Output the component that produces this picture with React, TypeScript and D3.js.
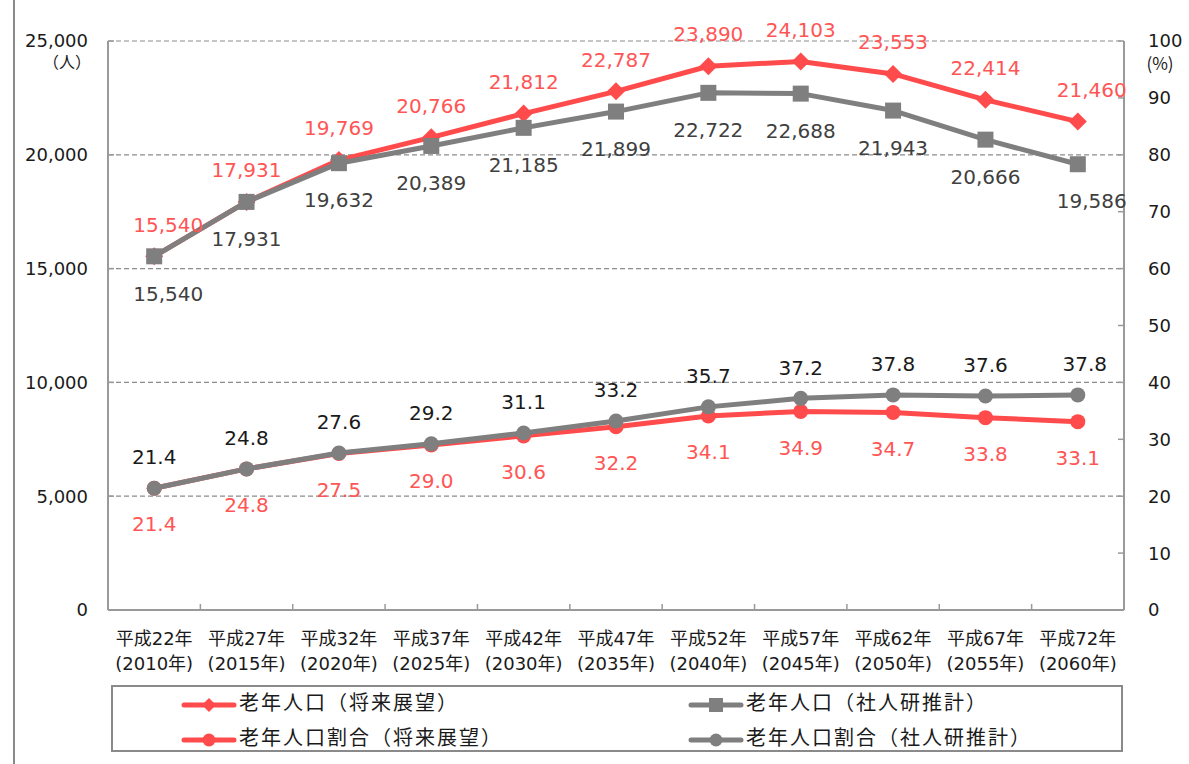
import React from "react";
import * as d3 from "d3";

const categories1 = ["平成22年", "平成27年", "平成32年", "平成37年", "平成42年", "平成47年", "平成52年", "平成57年", "平成62年", "平成67年", "平成72年"];
const categories2 = ["(2010年)", "(2015年)", "(2020年)", "(2025年)", "(2030年)", "(2035年)", "(2040年)", "(2045年)", "(2050年)", "(2055年)", "(2060年)"];
const popOutlook = [15540, 17931, 19769, 20766, 21812, 22787, 23890, 24103, 23553, 22414, 21460];
const popIPSS = [15540, 17931, 19632, 20389, 21185, 21899, 22722, 22688, 21943, 20666, 19586];
const ratioOutlook = [21.4, 24.8, 27.5, 29.0, 30.6, 32.2, 34.1, 34.9, 34.7, 33.8, 33.1];
const ratioIPSS = [21.4, 24.8, 27.6, 29.2, 31.1, 33.2, 35.7, 37.2, 37.8, 37.6, 37.8];
const leftTicks = [0, 5000, 10000, 15000, 20000, 25000];
const rightTicks = [0, 10, 20, 30, 40, 50, 60, 70, 80, 90, 100];
const legendLabels = ["老年人口（将来展望）", "老年人口（社人研推計）", "老年人口割合（将来展望）", "老年人口割合（社人研推計）"];

const RED = "#FF4B4B";
const RED_TEXT = "#FF5555";
const GRAY = "#7F7F7F";
const FONT = "'DejaVu Sans', 'Noto Sans CJK JP', sans-serif";
const CJK = "'Noto Sans CJK JP', 'DejaVu Sans', sans-serif";

export default function App() {
  const L = 108, R = 1124, T = 41, B = 610;
  const x = d3.scaleBand<string>().domain(categories1).range([L, R]);
  const cx = (i: number) => (x(categories1[i]) as number) + x.bandwidth() / 2;
  const yL = d3.scaleLinear().domain([0, 25000]).range([B, T]);
  const yR = d3.scaleLinear().domain([0, 100]).range([B, T]);
  const fmt = d3.format(",");
  const fmt1 = d3.format(".1f");
  const last = categories1.length - 1;

  const linePop = d3.line<number>().x((_, i) => cx(i)).y((d) => yL(d));
  const lineRat = d3.line<number>().x((_, i) => cx(i)).y((d) => yR(d));

  const diamond = (px: number, py: number, s: number) =>
    `M${px},${py - s} L${px + s},${py} L${px},${py + s} L${px - s},${py} Z`;

  const popDx = (i: number) => (i === 0 || i === last ? 14 : 0);

  return (
    <svg width={1189} height={764} style={{ position: "absolute", left: 0, top: 0, background: "#fff" }}>
      <line x1={14} x2={14} y1={0} y2={764} stroke="#8a8a8a" strokeWidth={2} />

      {/* gridlines */}
      {leftTicks.filter((t) => t > 0).map((t) => (
        <line key={"g" + t} x1={L} x2={R} y1={yL(t)} y2={yL(t)} stroke="#8c8c8c" strokeWidth={1.2} strokeDasharray="5 3" />
      ))}
      {/* axes */}
      <line x1={L} x2={L} y1={T} y2={B} stroke="#9a9a9a" strokeWidth={2} />
      <line x1={R} x2={R} y1={T} y2={B} stroke="#9a9a9a" strokeWidth={2} />
      <line x1={L} x2={R} y1={B} y2={B} stroke="#9a9a9a" strokeWidth={2} />
      {rightTicks.map((t) => (
        <line key={"rt" + t} x1={R - 6} x2={R} y1={yR(t)} y2={yR(t)} stroke="#9a9a9a" strokeWidth={1.5} />
      ))}
      {leftTicks.map((t) => (
        <line key={"lt" + t} x1={L} x2={L + 6} y1={yL(t)} y2={yL(t)} stroke="#9a9a9a" strokeWidth={1.5} />
      ))}
      {categories1.map((c, i) => (
        <line key={"bt" + i} x1={(x(c) as number)} x2={(x(c) as number)} y1={B - 6} y2={B} stroke="#9a9a9a" strokeWidth={1.5} />
      ))}

      {/* axis labels */}
      {leftTicks.map((t) => (
        <text key={"ll" + t} x={88} y={yL(t)} dy="0.36em" textAnchor="end" fontFamily={FONT} fontSize={18} fill="#1a1a1a">
          {fmt(t)}
        </text>
      ))}
      <text x={91} y={64} textAnchor="end" dominantBaseline="middle" fontFamily={CJK} fontSize={16} fill="#1a1a1a">（人）</text>
      {rightTicks.map((t) => (
        <text key={"rl" + t} x={1148} y={yR(t)} dy="0.36em" textAnchor="start" fontFamily={FONT} fontSize={18} fill="#1a1a1a">
          {t}
        </text>
      ))}
      <text x={1160} y={65} textAnchor="middle" dominantBaseline="middle" fontFamily={CJK} fontSize={17} fill="#1a1a1a">(%)</text>

      {categories1.map((c, i) => (
        <g key={"cl" + i}>
          <text x={cx(i)} y={640} textAnchor="middle" dominantBaseline="middle" fontFamily={FONT} fontSize={18} fill="#1a1a1a">{c}</text>
          <text x={cx(i)} y={665} textAnchor="middle" dominantBaseline="middle" fontFamily={FONT} fontSize={18} fill="#1a1a1a">{categories2[i]}</text>
        </g>
      ))}

      {/* population lines */}
      <path d={linePop(popOutlook) as string} fill="none" stroke={RED} strokeWidth={5} strokeLinejoin="round" />
      {popOutlook.map((v, i) => (
        <path key={"pd" + i} d={diamond(cx(i), yL(v), 9)} fill={RED} />
      ))}
      <path d={linePop(popIPSS) as string} fill="none" stroke={GRAY} strokeWidth={5} strokeLinejoin="round" />
      {popIPSS.map((v, i) => (
        <rect key={"ps" + i} x={cx(i) - 8} y={yL(v) - 8} width={16} height={16} fill={GRAY} />
      ))}

      {/* ratio lines */}
      <path d={lineRat(ratioOutlook) as string} fill="none" stroke={RED} strokeWidth={5} strokeLinejoin="round" />
      {ratioOutlook.map((v, i) => (
        <circle key={"rc" + i} cx={cx(i)} cy={yR(v)} r={7.5} fill={RED} />
      ))}
      <path d={lineRat(ratioIPSS) as string} fill="none" stroke={GRAY} strokeWidth={5} strokeLinejoin="round" />
      {ratioIPSS.map((v, i) => (
        <circle key={"gc" + i} cx={cx(i)} cy={yR(v)} r={7.5} fill={GRAY} />
      ))}

      {/* data labels */}
      {popOutlook.map((v, i) => (
        <text key={"pol" + i} x={cx(i) + popDx(i)} y={yL(v) - 32} dy="0.36em" textAnchor="middle" fontFamily={FONT} fontSize={20} fill={RED_TEXT}>
          {fmt(v)}
        </text>
      ))}
      {popIPSS.map((v, i) => (
        <text key={"pil" + i} x={cx(i) + popDx(i)} y={yL(v) + 37} dy="0.36em" textAnchor="middle" fontFamily={FONT} fontSize={20} fill="#404040">
          {fmt(v)}
        </text>
      ))}
      {ratioOutlook.map((v, i) => (
        <text key={"rol" + i} x={cx(i)} y={yR(v) + 36} dy="0.36em" textAnchor="middle" fontFamily={FONT} fontSize={20} fill={RED_TEXT}>
          {fmt1(v)}
        </text>
      ))}
      {ratioIPSS.map((v, i) => (
        <text key={"ril" + i} x={cx(i) + (i === last ? 7 : 0)} y={yR(v) - 31} dy="0.36em" textAnchor="middle" fontFamily={FONT} fontSize={20} fill="#1a1a1a">
          {fmt1(v)}
        </text>
      ))}

      {/* legend */}
      <rect x={112} y={686} width={1010} height={65} fill="#fff" stroke="#8a8a8a" strokeWidth={2} />
      {legendLabels.map((lab, k) => {
        const col = k % 2;
        const row = Math.floor(k / 2);
        const sx = col === 0 ? 184 : 691;
        const sy = row === 0 ? 705 : 740;
        const color = k === 0 || k === 2 ? RED : GRAY;
        return (
          <g key={"lg" + k}>
            <line x1={sx} x2={sx + 50} y1={sy} y2={sy} stroke={color} strokeWidth={5} strokeLinecap="round" />
            {row === 0 && col === 0 && <path d={diamond(sx + 25, sy, 7)} fill={color} />}
            {row === 0 && col === 1 && <rect x={sx + 18} y={sy - 7} width={14} height={14} fill={color} />}
            {row === 1 && <circle cx={sx + 25} cy={sy} r={6.5} fill={color} />}
            <text x={sx + 55} y={sy} dominantBaseline="middle" fontFamily={CJK} fontSize={20} letterSpacing={2} fill="#1a1a1a">
              {lab}
            </text>
          </g>
        );
      })}
    </svg>
  );
}
